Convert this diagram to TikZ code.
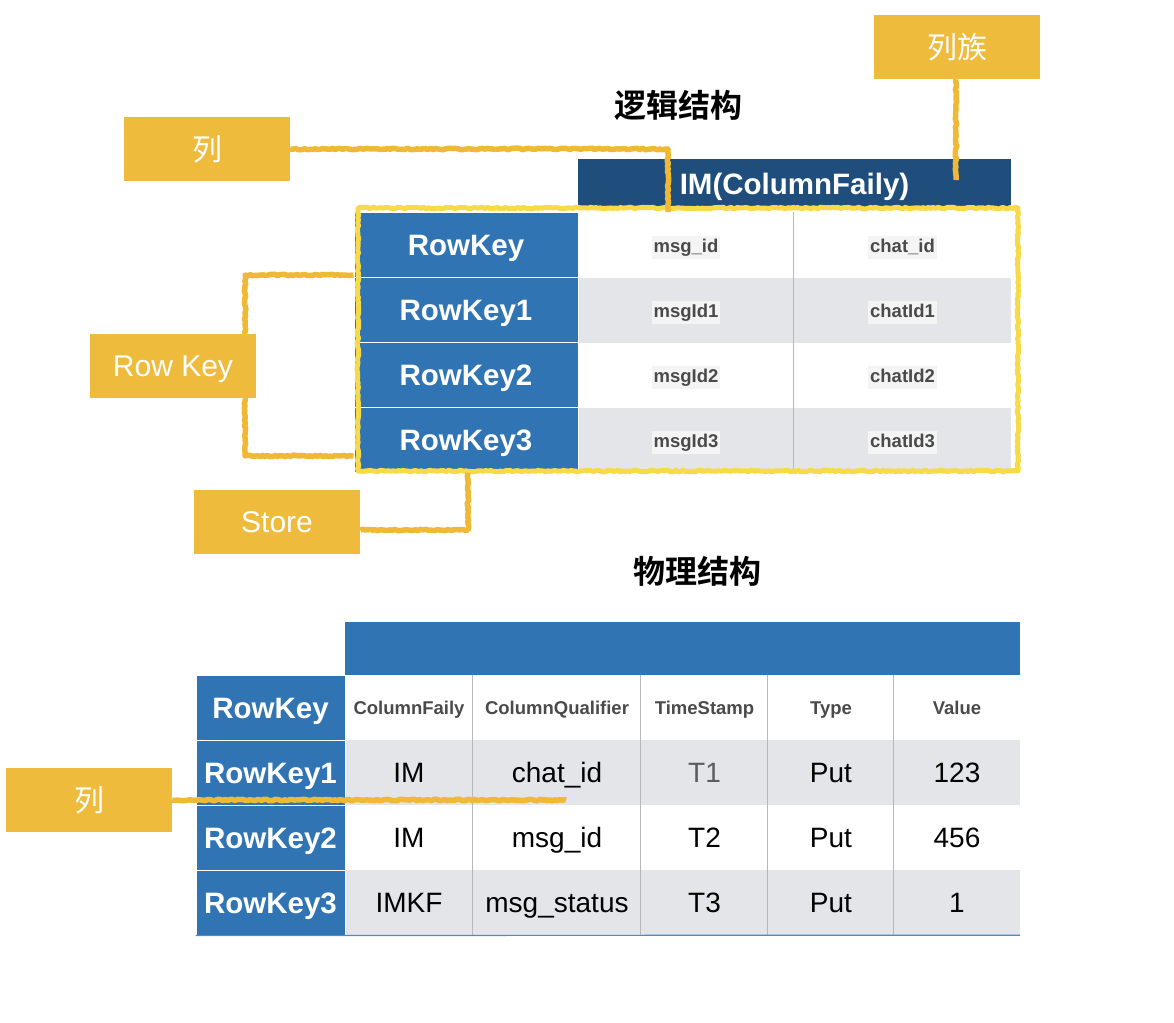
\documentclass[tikz,border=0pt]{standalone}
\usepackage{fontspec}
\setmainfont{Liberation Sans}
\newfontfamily\cjk{Noto Sans CJK SC}[BoldFont={Noto Sans CJK SC Bold}]
\usetikzlibrary{decorations.pathmorphing}
\definecolor{lbl}{HTML}{EFBB3C}
\definecolor{conn}{HTML}{EFB935}
\definecolor{outl}{HTML}{F7DA48}
\definecolor{darkhead}{HTML}{1F4E7D}
\definecolor{blue}{HTML}{3174B4}
\definecolor{rowgray}{HTML}{E4E5E9}
\definecolor{gridgray}{HTML}{B8B8B8}
\definecolor{hdtxt}{HTML}{4A4A4A}
\definecolor{hl}{HTML}{F4F4F4}
\definecolor{bottomline}{HTML}{4A8CC6}
\begin{document}
\begin{tikzpicture}[x=1pt,y=-1pt,
  lblbox/.style={fill=lbl,text=white,minimum width=166,minimum height=64,inner sep=0,
    text height=21.5pt,text depth=0pt,font=\fontsize{30}{32}\selectfont},
  cjklbl/.style={lblbox,text height=23pt,font=\fontsize{30}{32}\selectfont\cjk},
  title/.style={font=\fontsize{32}{34}\selectfont\cjk\bfseries,text=black},
  keycell/.style={fill=blue,draw=white,line width=1,text=white,inner sep=0,
    text height=21.2pt,text depth=0pt,font=\fontsize{29.5}{31}\selectfont\bfseries},
  datacell/.style={inner sep=0},
  smalltxt/.style={text=hdtxt,text height=13.3pt,text depth=0pt,inner sep=0,
    font=\fontsize{18.5}{20}\selectfont\bfseries},
  hltxt/.style={text=hdtxt,fill=hl,inner xsep=2,inner ysep=2.5,text height=14pt,text depth=4pt,
    font=\fontsize{18.5}{20}\selectfont\bfseries},
  bigtxt/.style={text=black,text height=20.2pt,text depth=0pt,inner sep=0,
    font=\fontsize{28}{30}\selectfont},
  sketch/.style={draw=conn,line width=5.5,line join=round,decorate,
    decoration={random steps,segment length=2.5,amplitude=0.8}},
  outline/.style={draw=outl,line width=5,line join=round,decorate,
    decoration={random steps,segment length=2.5,amplitude=0.8}},
  grid/.style={draw=gridgray,line width=0.8}
]
\useasboundingbox (0,0) rectangle (1174,1022);

% ---------- titles ----------
\node[title] (t1) at (678,105) {逻辑结构};
\node[title] (t2) at (697,571) {物理结构};

% ---------- logical table ----------
\node[fill=darkhead,minimum width=433,minimum height=50,inner sep=0,text=white,
  text height=21.2pt,text depth=0pt,
  font=\fontsize{29.5}{31}\selectfont\bfseries] (lhead) at (794.5,184) {IM(ColumnFaily)};

\foreach \r/\y/\k/\a/\b/\f in {
  0/245/RowKey/msg\_id/chat\_id/white,
  1/310/RowKey1/msgId1/chatId1/rowgray,
  2/375/RowKey2/msgId2/chatId2/white,
  3/440/RowKey3/msgId3/chatId3/rowgray}{
  \node[datacell,fill=\f,minimum width=216,minimum height=65] (ld\r a) at (686,\y) {};
  \node[datacell,fill=\f,minimum width=217,minimum height=65] (ld\r b) at (902.5,\y) {};
  \node[hltxt] (lt\r a) at ([yshift=-2]ld\r a.center) {\a};
  \node[hltxt] (lt\r b) at ([yshift=-2]ld\r b.center) {\b};
  \node[keycell,minimum width=224,minimum height=65] (lk\r) at (466,\y) {\k};
}
\draw[grid] (ld0b.north west) -- (ld3b.south west);

% ---------- physical table ----------
\node[fill=blue,minimum width=675,minimum height=53,inner sep=0] (ph) at (682.5,648.5) {};

\foreach \r/\y/\k/\f in {0/707.5/RowKey/white,1/772.5/RowKey1/rowgray,
  2/837.5/RowKey2/white,3/902.5/RowKey3/rowgray}{
  \foreach \c/\x/\w in {1/409/128,2/557/168,3/704.5/127,4/831/126,5/957/126}{
    \node[datacell,fill=\f,minimum width=\w,minimum height=65] (pd\r\c) at (\x,\y) {};
  }
  \node[keycell,minimum width=149,minimum height=65] (pk\r) at (270.5,\y) {\k};
}
% header row texts
\foreach \c/\t in {1/ColumnFaily,2/ColumnQualifier,3/TimeStamp,4/Type,5/Value}{
  \node[smalltxt] (ph\c) at (pd0\c.center) {\t};
}
% data texts
\node[bigtxt] (v11) at (pd11) {IM};
\node[bigtxt] (v12) at (pd12) {chat\_id};
\node[bigtxt,text=hdtxt!90] (v13) at (pd13) {T1};
\node[bigtxt] (v14) at (pd14) {Put};
\node[bigtxt] (v15) at (pd15) {123};
\node[bigtxt] (v21) at (pd21) {IM};
\node[bigtxt] (v22) at (pd22) {msg\_id};
\node[bigtxt] (v23) at (pd23) {T2};
\node[bigtxt] (v24) at (pd24) {Put};
\node[bigtxt] (v25) at (pd25) {456};
\node[bigtxt] (v31) at (pd31) {IMKF};
\node[bigtxt] (v32) at (pd32) {msg\_status};
\node[bigtxt] (v33) at (pd33) {T3};
\node[bigtxt] (v34) at (pd34) {Put};
\node[bigtxt] (v35) at (pd35) {1};
\foreach \c in {2,3,4,5}{
  \draw[grid] (pd0\c.north west) -- (pd3\c.south west);
}
\draw[draw=bottomline,line width=1.2] (pk3.south west) -- (pd35.south east);

% ---------- yellow outline ----------
\coordinate (oNW) at (358,208);
\coordinate (oSE) at (1018,471);
\draw[outline] (oNW) rectangle (oSE);

% ---------- labels ----------
\node[cjklbl] (cf) at (957,47) {列族};
\node[cjklbl] (c1) at (207,149) {列};
\node[lblbox] (rk) at (173,366) {Row Key};
\node[lblbox] (st) at (277,522) {Store};
\node[cjklbl] (c5) at (89,800) {列};

% ---------- connectors ----------
\coordinate (c1end) at (668,212);
\coordinate (cfend) at (956,180);
\coordinate (rkt) at (245,275);
\coordinate (rkb) at (245,456);
\coordinate (stc) at (468,530);
\coordinate (c5end) at (566,800);

\draw[sketch] (c1.east) -- (c1.east -| c1end) -- (c1end);
\draw[sketch] (cf.south -| cfend) -- (cfend);
\draw[sketch] (rk.north -| rkt) -- (rkt) -- (rkt -| lk0.west);
\draw[sketch] (rk.south -| rkb) -- (rkb) -- (rkb -| lk3.west);
\draw[sketch] (st.east |- stc) -- (stc) -- (stc |- lk3.south);
\draw[sketch] (c5.east) -- (c5end);
\end{tikzpicture}
\end{document}
